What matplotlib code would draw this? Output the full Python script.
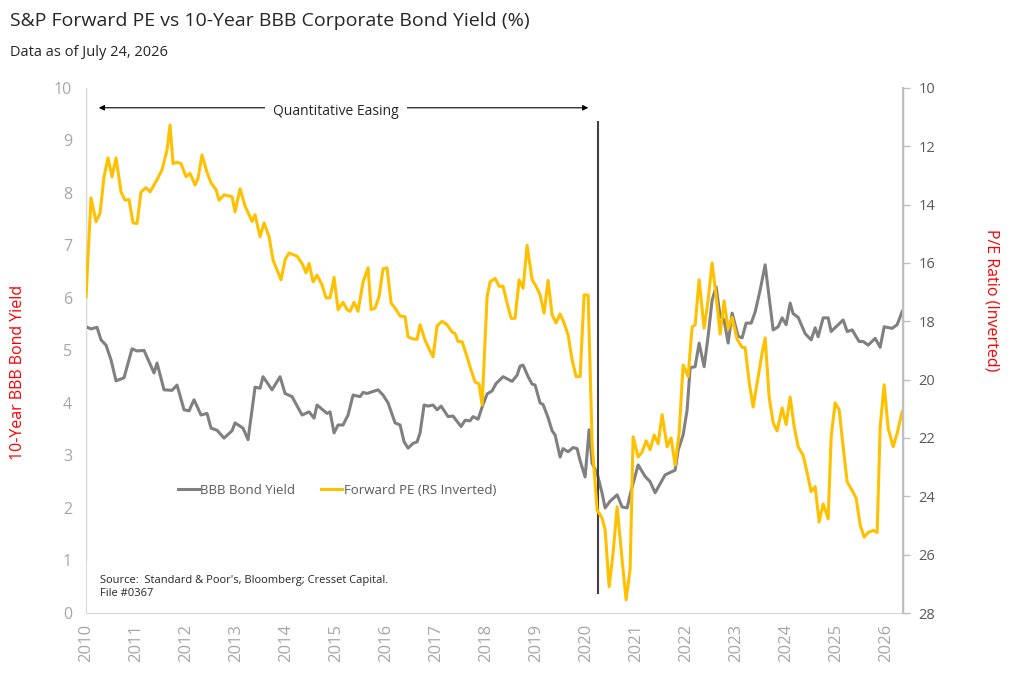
import matplotlib.pyplot as plt
import numpy as np

plt.rcParams['font.family'] = ['Open Sans', 'DejaVu Sans']

# BBB 10年期收益率（左轴），按年份小数读取
bbb_t = [2010.00, 2010.10, 2010.22, 2010.30, 2010.40, 2010.50, 2010.60, 2010.76, 2010.92, 2011.02,
         2011.16, 2011.36, 2011.42, 2011.56, 2011.72, 2011.82, 2011.96, 2012.06, 2012.16, 2012.30,
         2012.42, 2012.50, 2012.62, 2012.76, 2012.92, 2012.98, 2013.14, 2013.24, 2013.38, 2013.48,
         2013.54, 2013.72, 2013.88, 2013.98, 2014.12, 2014.32, 2014.46, 2014.56, 2014.62, 2014.82,
         2014.88, 2014.96, 2015.04, 2015.14, 2015.24, 2015.34, 2015.48, 2015.54, 2015.62, 2015.84,
         2015.94, 2016.04, 2016.18, 2016.28, 2016.36, 2016.44, 2016.54, 2016.62, 2016.68, 2016.76,
         2016.84, 2016.94, 2017.02, 2017.10, 2017.24, 2017.34, 2017.50, 2017.58, 2017.68, 2017.74,
         2017.84, 2017.92, 2018.02, 2018.12, 2018.20, 2018.34, 2018.52, 2018.62, 2018.68, 2018.74,
         2018.84, 2018.92, 2018.98, 2019.08, 2019.14, 2019.24, 2019.32, 2019.38, 2019.48, 2019.54,
         2019.64, 2019.74, 2019.82, 2019.88, 2019.98, 2020.06, 2020.12, 2020.22, 2020.32, 2020.38,
         2020.48, 2020.62, 2020.72, 2020.82, 2020.88, 2021.04, 2021.18, 2021.28, 2021.38, 2021.58,
         2021.78, 2021.84, 2021.94, 2022.02, 2022.08, 2022.18, 2022.26, 2022.36, 2022.44, 2022.52,
         2022.60, 2022.68, 2022.76, 2022.84, 2022.92, 2023.04, 2023.12, 2023.20, 2023.30, 2023.38,
         2023.48, 2023.58, 2023.74, 2023.84, 2023.92, 2024.00, 2024.08, 2024.14, 2024.24, 2024.32,
         2024.38, 2024.50, 2024.58, 2024.64, 2024.74, 2024.84, 2024.90, 2025.02, 2025.14, 2025.22,
         2025.32, 2025.46, 2025.54, 2025.64, 2025.78, 2025.88, 2025.96, 2026.12, 2026.22, 2026.32]
bbb_yield = [5.45, 5.41, 5.44, 5.20, 5.10, 4.82, 4.42, 4.48, 5.03, 4.99,
             5.00, 4.57, 4.76, 4.25, 4.24, 4.34, 3.87, 3.85, 4.06, 3.77,
             3.80, 3.52, 3.48, 3.33, 3.47, 3.62, 3.52, 3.30, 4.30, 4.28,
             4.50, 4.25, 4.50, 4.18, 4.12, 3.77, 3.83, 3.71, 3.96, 3.80,
             3.83, 3.43, 3.58, 3.58, 3.77, 4.15, 4.12, 4.20, 4.18, 4.25,
             4.15, 4.00, 3.62, 3.58, 3.26, 3.14, 3.23, 3.26, 3.43, 3.96,
             3.94, 3.96, 3.87, 3.94, 3.74, 3.75, 3.55, 3.67, 3.66, 3.74,
             3.69, 3.92, 4.17, 4.23, 4.37, 4.50, 4.41, 4.53, 4.70, 4.72,
             4.50, 4.36, 4.34, 4.00, 3.97, 3.72, 3.47, 3.39, 2.97, 3.13,
             3.07, 3.15, 3.13, 2.90, 2.59, 3.49, 2.85, 2.66, 2.28, 2.00,
             2.13, 2.25, 2.02, 2.00, 2.25, 2.82, 2.60, 2.50, 2.29, 2.63,
             2.72, 3.10, 3.39, 3.87, 4.67, 4.69, 5.14, 4.69, 5.27, 5.96,
             6.21, 5.65, 5.58, 5.14, 5.71, 5.27, 5.24, 5.52, 5.52, 5.73,
             6.15, 6.63, 5.39, 5.45, 5.62, 5.49, 5.90, 5.70, 5.63, 5.45,
             5.32, 5.20, 5.43, 5.26, 5.62, 5.62, 5.36, 5.47, 5.58, 5.36,
             5.39, 5.17, 5.17, 5.10, 5.23, 5.06, 5.45, 5.42, 5.49, 5.74]

# 标普远期市盈率（右轴，倒置）
pe_t = [2010.00, 2010.10, 2010.20, 2010.28, 2010.36, 2010.44, 2010.52, 2010.60, 2010.70, 2010.78,
        2010.86, 2010.94, 2011.02, 2011.10, 2011.20, 2011.28, 2011.42, 2011.52, 2011.62, 2011.68,
        2011.74, 2011.82, 2011.90, 2012.00, 2012.08, 2012.18, 2012.24, 2012.32, 2012.42, 2012.50,
        2012.60, 2012.66, 2012.76, 2012.92, 2012.98, 2013.08, 2013.18, 2013.32, 2013.38, 2013.48,
        2013.56, 2013.66, 2013.74, 2013.90, 2013.98, 2014.06, 2014.22, 2014.32, 2014.40, 2014.46,
        2014.54, 2014.62, 2014.72, 2014.80, 2014.88, 2014.96, 2015.04, 2015.14, 2015.22, 2015.28,
        2015.36, 2015.44, 2015.54, 2015.64, 2015.70, 2015.78, 2015.86, 2015.94, 2016.02, 2016.10,
        2016.20, 2016.28, 2016.38, 2016.44, 2016.52, 2016.62, 2016.68, 2016.78, 2016.86, 2016.94,
        2017.02, 2017.12, 2017.22, 2017.32, 2017.38, 2017.44, 2017.52, 2017.62, 2017.68, 2017.78,
        2017.86, 2017.92, 2018.02, 2018.08, 2018.18, 2018.26, 2018.34, 2018.42, 2018.50, 2018.58,
        2018.66, 2018.74, 2018.82, 2018.92, 2019.00, 2019.08, 2019.16, 2019.24, 2019.32, 2019.40,
        2019.48, 2019.56, 2019.64, 2019.72, 2019.80, 2019.88, 2019.96, 2020.04, 2020.12, 2020.22,
        2020.32, 2020.38, 2020.46, 2020.54, 2020.62, 2020.72, 2020.80, 2020.88, 2020.94, 2021.04,
        2021.12, 2021.20, 2021.28, 2021.36, 2021.44, 2021.52, 2021.62, 2021.70, 2021.78, 2021.86,
        2021.94, 2022.04, 2022.12, 2022.18, 2022.26, 2022.36, 2022.44, 2022.52, 2022.60, 2022.68,
        2022.76, 2022.84, 2022.92, 2023.02, 2023.12, 2023.18, 2023.26, 2023.34, 2023.44, 2023.52,
        2023.58, 2023.66, 2023.74, 2023.82, 2023.92, 2024.00, 2024.08, 2024.16, 2024.24, 2024.34,
        2024.42, 2024.50, 2024.58, 2024.66, 2024.74, 2024.84, 2024.90, 2024.98, 2025.06, 2025.14,
        2025.22, 2025.32, 2025.40, 2025.48, 2025.56, 2025.64, 2025.74, 2025.82, 2025.88, 2025.96,
        2026.04, 2026.14, 2026.22, 2026.32]
pe_ratio = [17.16, 13.77, 14.59, 14.30, 13.05, 12.40, 13.05, 12.40, 13.57, 13.85,
            13.83, 14.63, 14.65, 13.57, 13.42, 13.57, 13.15, 12.81, 12.13, 11.27,
            12.60, 12.55, 12.60, 13.05, 12.93, 13.33, 13.10, 12.30, 12.90, 13.26,
            13.49, 13.85, 13.67, 13.73, 14.25, 13.46, 14.05, 14.58, 14.35, 15.10,
            14.63, 15.10, 15.90, 16.58, 15.90, 15.66, 15.77, 16.02, 16.34, 16.02,
            16.65, 16.42, 16.76, 17.20, 17.20, 16.50, 17.60, 17.35, 17.60, 17.66,
            17.35, 17.66, 16.65, 16.17, 17.60, 17.55, 17.15, 16.20, 16.17, 17.37,
            17.60, 17.82, 17.85, 18.53, 18.60, 18.62, 18.12, 18.65, 18.95, 19.22,
            18.16, 18.00, 18.12, 18.37, 18.42, 18.70, 18.70, 19.22, 19.57, 20.08,
            20.15, 20.87, 17.16, 16.65, 16.53, 16.80, 16.80, 17.38, 17.90, 17.90,
            16.58, 16.87, 15.40, 16.58, 16.80, 17.10, 17.72, 16.60, 17.78, 18.06,
            17.75, 18.06, 18.47, 19.32, 19.90, 19.90, 17.10, 17.10, 22.17, 24.47,
            24.75, 25.15, 27.10, 25.94, 24.36, 26.18, 27.55, 26.50, 21.96, 22.65,
            22.48, 22.10, 22.40, 21.90, 22.20, 21.20, 22.30, 22.00, 22.93, 21.84,
            19.50, 19.90, 18.19, 18.13, 16.58, 18.24, 17.27, 16.00, 17.15, 18.44,
            17.30, 18.27, 17.87, 18.62, 18.90, 18.90, 20.08, 20.94, 19.90, 19.08,
            18.57, 20.60, 21.48, 21.76, 20.97, 21.54, 20.60, 21.60, 22.30, 22.60,
            23.20, 23.84, 23.67, 24.88, 24.26, 24.77, 21.96, 20.80, 21.03, 22.30,
            23.50, 23.80, 24.07, 24.98, 25.40, 25.24, 25.17, 25.24, 21.62, 20.18,
            21.67, 22.30, 21.84, 21.10]

years = list(range(2010, 2027))
qe_start, qe_end = 2010.0, 2020.24

fig = plt.figure(figsize=(10.24, 6.97), dpi=100)
ax = fig.add_axes([0.084, 0.1205, 0.798, 0.7535])
ax2 = ax.twinx()

l1, = ax.plot(bbb_t, bbb_yield, color='#808080', lw=2.2, label='BBB Bond Yield')
l2, = ax2.plot(pe_t, pe_ratio, color='#FFC000', lw=2.2, label='Forward PE (RS Inverted)')

ax.set_xlim(2010, 2026.34)
ax.set_ylim(0, 10)
ax.set_yticks(range(0, 11))
ax2.set_ylim(28, 10)
ax2.set_yticks(range(10, 29, 2))

ax.set_xticks(years)
ax.set_xticklabels([str(y) for y in years], rotation=90, color='#a6a6a6', fontsize=12)
ax.tick_params(axis='x', length=0, pad=8)
ax.tick_params(axis='y', length=0, labelsize=11.5, labelcolor='#a6a6a6', pad=10)
ax2.tick_params(axis='y', length=5, width=1, color='#bfbfbf', labelsize=10.5,
                labelcolor='#595959', pad=6)

for a in (ax, ax2):
    a.spines['top'].set_visible(False)
ax.spines['left'].set_color('#d9d9d9')
ax.spines['bottom'].set_color('#d9d9d9')
ax2.spines['left'].set_visible(False)
ax2.spines['bottom'].set_visible(False)
ax2.spines['right'].set_color('#bfbfbf')
ax2.spines['right'].set_linewidth(1.5)

# QE 区间标注
ax.plot([qe_start, qe_start], [1.0, 10.0], color='black', lw=1.5)
ax.plot([qe_end, qe_end], [0.38, 9.35], color='#404040', lw=1.5)
ax.annotate('', xy=(2010.2, 9.62), xytext=(2020.1, 9.62),
            arrowprops=dict(arrowstyle='<|-|>', color='black', lw=0.8, mutation_scale=8))
ax.text(2015.0, 9.55, 'Quantitative Easing', ha='center', va='center', fontsize=10,
        color='#262626', bbox=dict(facecolor='white', edgecolor='none', pad=6))

ax.legend(handles=[l1, l2], loc='center', bbox_to_anchor=(0.307, 0.234), ncol=2,
          frameon=False, fontsize=9.5, labelcolor='#595959', handlelength=1.6,
          handletextpad=0.1, columnspacing=2.0)

ax.text(0.017, 0.027, "Source:  Standard & Poor's, Bloomberg; Cresset Capital.\nFile #0367",
        transform=ax.transAxes, fontsize=8, color='#262626', va='bottom', ha='left')

fig.text(0.010, 0.97, 'S&P Forward PE vs 10-Year BBB Corporate Bond Yield (%)',
         fontsize=14, color='#262626', va='center', ha='left')
fig.text(0.010, 0.925, 'Data as of July 24, 2026', fontsize=10.5, color='#262626',
         va='center', ha='left')
fig.text(0.018, 0.466, '10-Year BBB Bond Yield', rotation=90, color='#ff0000',
         fontsize=11.5, va='center', ha='center')
fig.text(0.968, 0.57, 'P/E Ratio (Inverted)', rotation=270, color='#ff0000',
         fontsize=11.5, va='center', ha='center')

plt.savefig('out.png', dpi=100)
